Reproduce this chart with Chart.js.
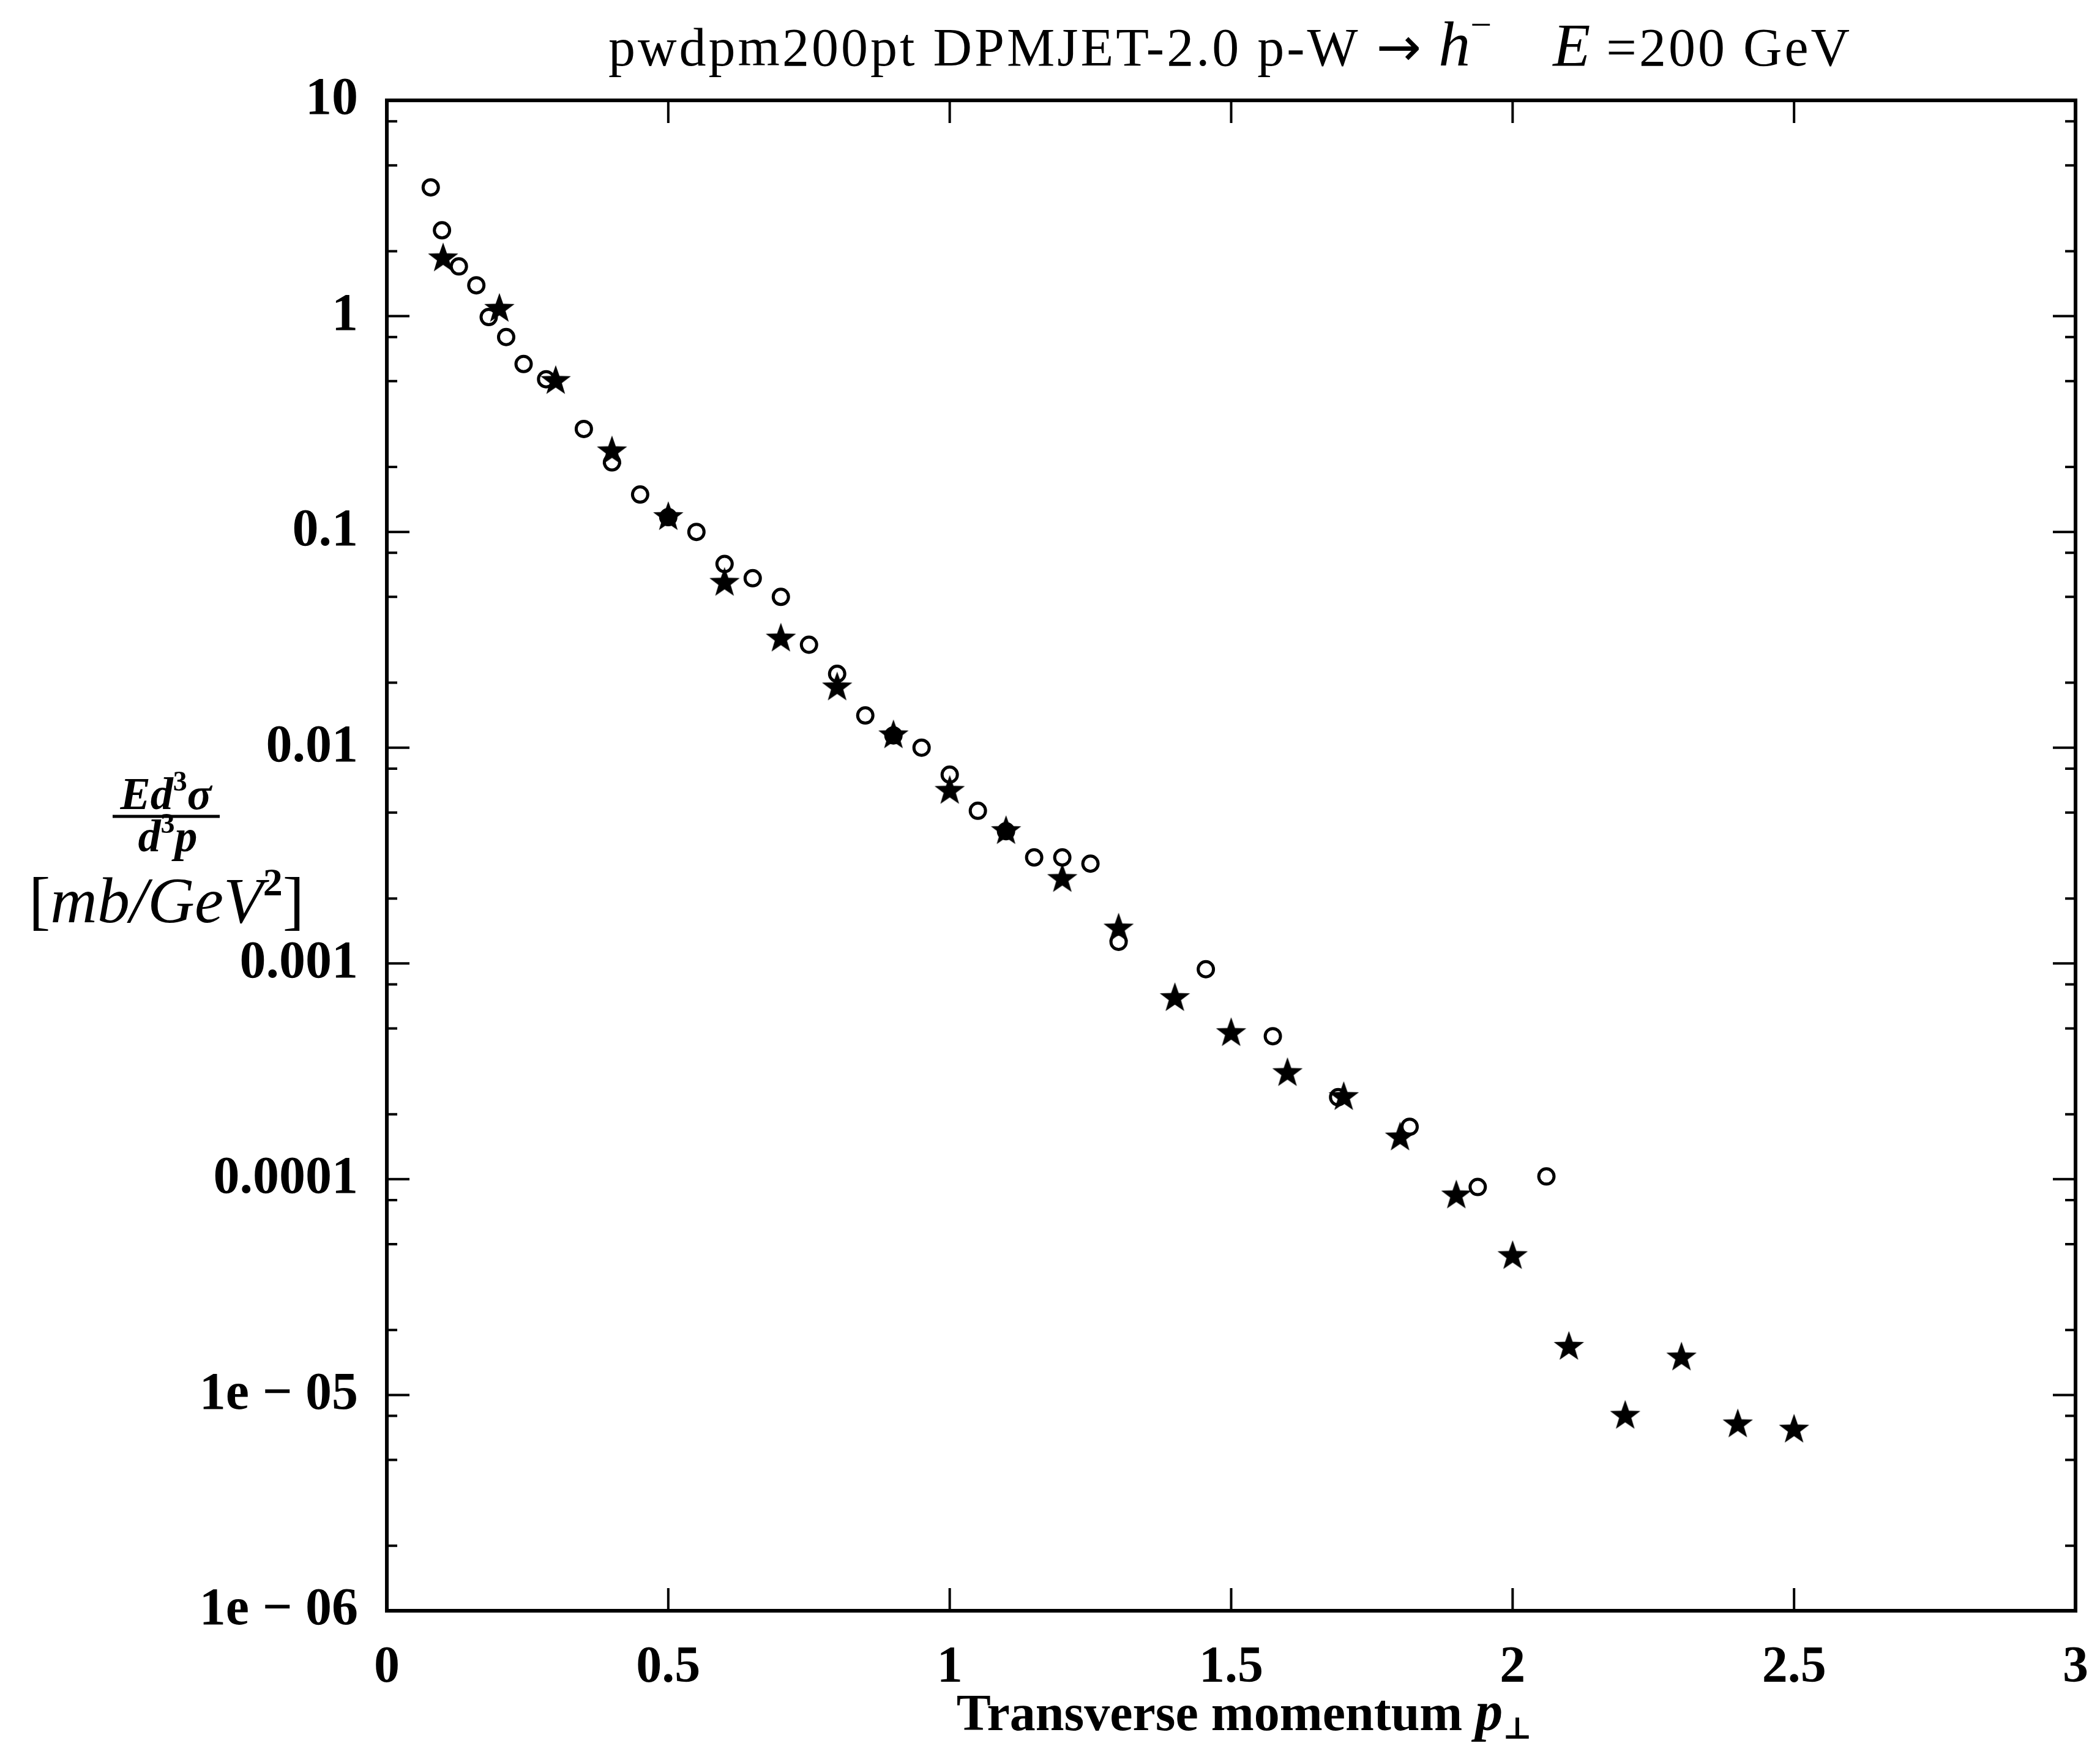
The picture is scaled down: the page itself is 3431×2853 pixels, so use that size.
<!DOCTYPE html>
<html>
<head>
<meta charset="utf-8">
<script src="https://cdn.jsdelivr.net/npm/chart.js@4.4.1/dist/chart.umd.min.js"></script>
<style>
  html, body { margin: 0; padding: 0; background: #fff; }
  canvas { display: block; }
</style>
</head>
<body>
<canvas id="chartPt" width="3431" height="2853"></canvas>
<script>
// open circles
const circleX = [0.078, 0.098, 0.128, 0.159, 0.181, 0.212, 0.243, 0.283, 0.35, 0.4, 0.45, 0.5, 0.55,
  0.6, 0.65, 0.7, 0.75, 0.8, 0.85, 0.9, 0.95, 1.0, 1.05, 1.1, 1.15, 1.2, 1.25,
  1.3, 1.455, 1.574, 1.69, 1.817, 1.938, 2.06];
const circleY = [3.95, 2.5, 1.7, 1.39, 0.99, 0.8, 0.6, 0.51, 0.30, 0.21, 0.149, 0.117, 0.1,
  0.071, 0.061, 0.050, 0.030, 0.022, 0.0141, 0.0114, 0.0100, 0.0075, 0.0051, 0.0041, 0.0031, 0.0031, 0.0029,
  0.00126, 0.00094, 0.00046, 0.00024, 0.000175, 0.000092, 0.000103];

// filled stars
const starX = [0.1, 0.2, 0.3, 0.4, 0.5, 0.6, 0.7, 0.8, 0.9, 1.0, 1.1, 1.2, 1.3,
  1.4, 1.5, 1.6, 1.7, 1.8, 1.9, 2.0, 2.1, 2.2, 2.3, 2.4, 2.5];
const starY = [1.85, 1.08, 0.50, 0.236, 0.117, 0.058, 0.032, 0.019, 0.0114, 0.0063, 0.0041, 0.00246, 0.00145,
  0.00069, 0.000475, 0.00031, 0.00024, 0.000156, 0.000084, 0.000044, 0.0000167, 0.0000080, 0.0000149, 0.0000073, 0.0000069];

const yTicks = [1e-6, 1e-5, 1e-4, 1e-3, 0.01, 0.1, 1, 10];
const yTickLabels = ["1e \u2212 06", "1e \u2212 05", "0.0001", "0.001", "0.01", "0.1", "1", "10"];
const yMinor = [2, 5, 8];
const xMajor = [0, 0.5, 1, 1.5, 2, 2.5, 3];

const SERIF = "'Liberation Serif', 'DejaVu Serif', serif";

function makeStar(R, r) {
  const c = document.createElement("canvas");
  const s = Math.ceil(2 * R + 4);
  c.width = s; c.height = s;
  const g = c.getContext("2d");
  g.translate(s / 2, s / 2);
  g.beginPath();
  for (let i = 0; i < 10; i++) {
    const a = -Math.PI / 2 + i * Math.PI / 5;
    const rad = i % 2 === 0 ? R : r;
    g.lineTo(rad * Math.cos(a), rad * Math.sin(a));
  }
  g.closePath();
  g.fillStyle = "#000";
  g.fill();
  return c;
}

// draw a row of text pieces centred on cx
function drawRich(ctx, parts, cx, baseline) {
  let total = 0;
  const widths = parts.map(p => {
    ctx.font = p.font;
    ctx.letterSpacing = p.ls || "0px";
    const w = ctx.measureText(p.t).width + (p.gap || 0);
    total += w;
    return w;
  });
  let x = cx - total / 2;
  parts.forEach((p, i) => {
    ctx.font = p.font;
    ctx.letterSpacing = p.ls || "0px";
    ctx.fillText(p.t, x, baseline + (p.dy || 0));
    x += widths[i];
  });
  ctx.letterSpacing = "0px";
}

const framePlugin = {
  id: "frame",
  afterDraw(chart) {
    const ctx = chart.ctx;
    const a = chart.chartArea;
    const xs = chart.scales.x, ys = chart.scales.y;
    ctx.save();
    ctx.strokeStyle = "#000";
    ctx.fillStyle = "#000";
    ctx.lineWidth = 6;
    ctx.strokeRect(a.left, a.top, a.right - a.left, a.bottom - a.top);

    ctx.lineWidth = 4;
    ctx.beginPath();
    xMajor.forEach(v => {
      const px = xs.getPixelForValue(v);
      ctx.moveTo(px, a.bottom); ctx.lineTo(px, a.bottom - 37);
      ctx.moveTo(px, a.top); ctx.lineTo(px, a.top + 37);
    });
    yTicks.forEach(v => {
      const py = ys.getPixelForValue(v);
      ctx.moveTo(a.left, py); ctx.lineTo(a.left + 37, py);
      ctx.moveTo(a.right, py); ctx.lineTo(a.right - 37, py);
      if (v < 10) {
        yMinor.forEach(m => {
          const pm = ys.getPixelForValue(v * m);
          ctx.moveTo(a.left, pm); ctx.lineTo(a.left + 17, pm);
          ctx.moveTo(a.right, pm); ctx.lineTo(a.right - 17, pm);
        });
      }
    });
    ctx.stroke();

    ctx.textAlign = "left";
    ctx.textBaseline = "alphabetic";

    // title
    drawRich(ctx, [
      { t: "pwdpm200pt DPMJET-2.0 p-W ", font: "88px " + SERIF, ls: "4px" },
      { t: "\u2192 ", font: "88px 'DejaVu Sans'" },
      { t: "h", font: "italic 104px " + SERIF },
      { t: "\u2212", font: "62px " + SERIF, dy: -46, gap: 100 },
      { t: "E", font: "italic 100px " + SERIF },
      { t: " =200 GeV", font: "88px " + SERIF, ls: "4px" }
    ], 2010, 107);

    // x axis title
    drawRich(ctx, [
      { t: "Transverse momentum ", font: "bold 84px " + SERIF },
      { t: "p", font: "bold italic 90px " + SERIF },
      { t: "\u22A5", font: "bold 50px " + SERIF, dy: 14 }
    ], 2033, 2827);

    // y axis title: fraction
    drawRich(ctx, [
      { t: "Ed", font: "bold italic 74px " + SERIF },
      { t: "3", font: "bold 46px " + SERIF, dy: -30 },
      { t: "\u03C3", font: "bold italic 74px " + SERIF }
    ], 271, 1322);
    ctx.lineWidth = 5;
    ctx.beginPath();
    ctx.moveTo(184, 1334); ctx.lineTo(359, 1334);
    ctx.stroke();
    drawRich(ctx, [
      { t: "d", font: "bold italic 74px " + SERIF },
      { t: "3", font: "bold 46px " + SERIF, dy: -30 },
      { t: "p", font: "bold italic 74px " + SERIF }
    ], 274, 1391);
    drawRich(ctx, [
      { t: "[", font: "106px " + SERIF },
      { t: "mb/GeV", font: "italic 106px " + SERIF },
      { t: "2", font: "bold 64px " + SERIF, dy: -44 },
      { t: "]", font: "106px " + SERIF }
    ], 272, 1507);
    ctx.restore();
  }
};

const starImg = makeStar(26, 10.5);

new Chart(document.getElementById("chartPt"), {
  type: "scatter",
  data: {
    datasets: [
      {
        label: "stars",
        data: starX.map((x, i) => ({ x: x, y: starY[i] })),
        pointStyle: starImg,
        pointRadius: 26,
        backgroundColor: "#000",
        borderColor: "#000"
      },
      {
        label: "circles",
        data: circleX.map((x, i) => ({ x: x, y: circleY[i] })),
        pointStyle: "circle",
        pointRadius: 12.5,
        borderWidth: 5,
        borderColor: "#000",
        backgroundColor: "rgba(0,0,0,0)"
      }
    ]
  },
  options: {
    responsive: false,
    animation: false,
    devicePixelRatio: 1,
    layout: { padding: { top: 164, right: 40, left: 0, bottom: 0 } },
    plugins: {
      legend: { display: false },
      tooltip: { enabled: false },
      title: { display: false }
    },
    scales: {
      x: {
        type: "linear",
        min: 0,
        max: 3,
        grid: { display: false, drawTicks: false },
        border: { display: false },
        afterFit(scale) {
          scale.height = 221;
          scale.paddingLeft = 0;
          scale.paddingRight = 0;
        },
        ticks: {
          stepSize: 0.5,
          padding: 44,
          color: "#000",
          font: { family: SERIF, size: 84, weight: "bold" },
          callback: v => String(v)
        }
      },
      y: {
        type: "logarithmic",
        min: 1e-6,
        max: 10,
        grid: { display: false, drawTicks: false },
        border: { display: false },
        afterFit(scale) {
          scale.width = 632;
          scale.paddingTop = 0;
          scale.paddingBottom = 0;
        },
        afterBuildTicks(scale) {
          scale.ticks = yTicks.map(v => ({ value: v, major: true }));
        },
        ticks: {
          autoSkip: false,
          padding: 47,
          color: "#000",
          font: { family: SERIF, size: 86, weight: "bold" },
          callback: v => {
            const i = yTicks.findIndex(t => Math.abs(Math.log10(t) - Math.log10(v)) < 1e-6);
            return i >= 0 ? yTickLabels[i] : "";
          }
        }
      }
    }
  },
  plugins: [framePlugin]
});
</script>
</body>
</html>
